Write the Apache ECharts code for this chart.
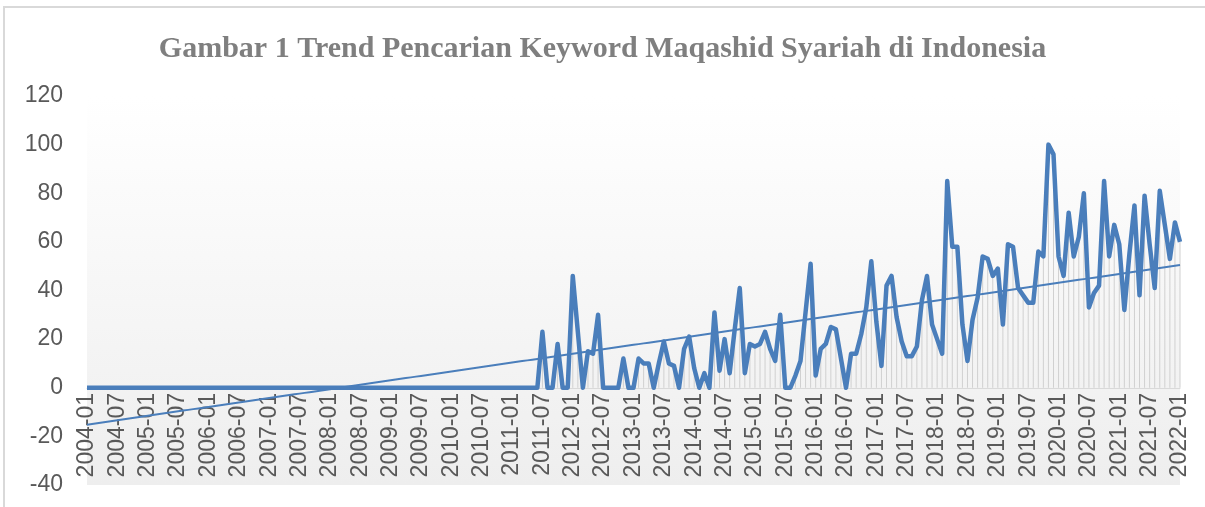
<!DOCTYPE html>
<html><head><meta charset="utf-8">
<script src="https://cdn.jsdelivr.net/npm/echarts@6/dist/echarts.min.js"></script>
<style>html,body{margin:0;padding:0;background:#fff}#c{width:1205px;height:507px}</style>
</head><body><div id="c"></div>
<script>
const chartTitle = 'Gambar 1 Trend Pencarian Keyword Maqashid Syariah di Indonesia';
const startYear = 2004, endYear = 2022;
const categories = [];
for (let y = startYear; y <= endYear; y++) {
  for (let m = 1; m <= 12; m++) {
    if (y === endYear && m > 1) break;
    categories.push(y + '-' + String(m).padStart(2, '0'));
  }
}
// monthly search interest, 2004-01 .. 2022-01
const searchIndex = [
  0,0,0,0,0,0,0,0,0,0,0,0,        // 2004
  0,0,0,0,0,0,0,0,0,0,0,0,        // 2005
  0,0,0,0,0,0,0,0,0,0,0,0,        // 2006
  0,0,0,0,0,0,0,0,0,0,0,0,        // 2007
  0,0,0,0,0,0,0,0,0,0,0,0,        // 2008
  0,0,0,0,0,0,0,0,0,0,0,0,        // 2009
  0,0,0,0,0,0,0,0,0,0,0,0,        // 2010
  0,0,0,0,0,0,23,0,0,18,0,0,      // 2011
  46,23,0,15,14,30,0,0,0,0,12,0,  // 2012
  0,12,10,10,0,10,19,10,9,0,16,21,// 2013
  8,0,6,0,31,7,20,6,24,41,6,18,   // 2014
  17,18,23,16,11,30,0,0,5,11,31,51, // 2015
  5,16,18,25,24,12,0,14,14,22,33,52, // 2016
  27,9,42,46,29,19,13,13,17,36,46,26, // 2017
  20,14,85,58,58,26,11,28,37,54,53,46, // 2018
  49,26,59,58,41,38,35,35,56,54,100,96, // 2019
  54,46,72,54,62,80,33,39,42,85,54,67, // 2020
  59,32,55,75,38,79,59,41,81,67,53,68, // 2021
  60                                // 2022
];
const yMin = -40, yMax = 120, yStep = 20;

// linear least-squares trendline (as Excel computes it)
const n = searchIndex.length;
let sx = 0, sy = 0, sxy = 0, sxx = 0;
for (let i = 0; i < n; i++) { const x = i + 1; sx += x; sy += searchIndex[i]; sxy += x * searchIndex[i]; sxx += x * x; }
const slope = (n * sxy - sx * sy) / (n * sxx - sx * sx);
const intercept = (sy - slope * sx) / n;
const trend = searchIndex.map((_, i) => intercept + slope * (i + 1));

const blue = '#4a7ebb';
const labelFont = 'Liberation Sans';
const G_LEFT = 87, G_RIGHT = 25, G_TOP = 96, G_BOTTOM = 22;
const chart = echarts.init(document.getElementById('c'), null, { renderer: 'canvas' });

// label strip grid ends at the value-axis zero line so category labels hang from 0
const plotH = 507 - G_TOP - G_BOTTOM;
const zeroFromBottom = Math.round(G_BOTTOM + plotH * (0 - yMin) / (yMax - yMin));

chart.setOption({
  animation: false,
  backgroundColor: '#ffffff',
  title: {
    text: chartTitle,
    left: 'center',
    top: 29,
    textStyle: { fontFamily: 'Liberation Serif', fontWeight: 'bold', fontSize: 30, color: '#7f7f7f' }
  },
  graphic: [{
    type: 'rect', silent: true, z: -1,
    shape: { x: 4, y: 7, width: 1220, height: 520 },
    style: { fill: 'none', stroke: '#d9d9d9', lineWidth: 2 }
  }],
  grid: [{
    left: G_LEFT, right: G_RIGHT, top: G_TOP, bottom: G_BOTTOM,
    outerBoundsMode: 'none', containLabel: false,
    show: true, borderWidth: 0,
    backgroundColor: new echarts.graphic.LinearGradient(0, 0, 0, 1, [
      { offset: 0, color: '#ffffff' }, { offset: 1, color: '#eeeeee' }
    ])
  }, {
    left: G_LEFT, right: G_RIGHT, top: G_TOP, bottom: zeroFromBottom,
    outerBoundsMode: 'none', containLabel: false, show: false
  }],
  xAxis: [{
    gridIndex: 0, type: 'category', data: categories, boundaryGap: false,
    axisLine: { onZero: true, lineStyle: { color: '#d9d9d9', width: 1 } },
    axisTick: { show: false },
    axisLabel: { show: false },
    splitLine: { show: false }
  }, {
    gridIndex: 1, type: 'category', data: categories, boundaryGap: false, position: 'bottom',
    axisLine: { show: false }, axisTick: { show: false }, splitLine: { show: false },
    axisLabel: { interval: 5, rotate: 90, fontSize: 23, color: '#595959', fontFamily: labelFont, margin: 5 }
  }],
  yAxis: [{
    gridIndex: 0, type: 'value', min: yMin, max: yMax, interval: yStep,
    axisLine: { show: false }, axisTick: { show: false }, splitLine: { show: false },
    axisLabel: { fontSize: 23, color: '#595959', fontFamily: labelFont, margin: 24 }
  }, {
    gridIndex: 1, type: 'value', show: false
  }],
  series: [
    { type: 'bar', data: searchIndex, barWidth: 1, silent: true, itemStyle: { color: '#d0d0d0' }, z: 1 },
    { type: 'line', data: searchIndex, showSymbol: false, lineStyle: { color: blue, width: 4.5, join: 'round' }, z: 3 },
    { type: 'line', data: trend, showSymbol: false, lineStyle: { color: blue, width: 2 }, z: 4 }
  ]
});
</script></body></html>
